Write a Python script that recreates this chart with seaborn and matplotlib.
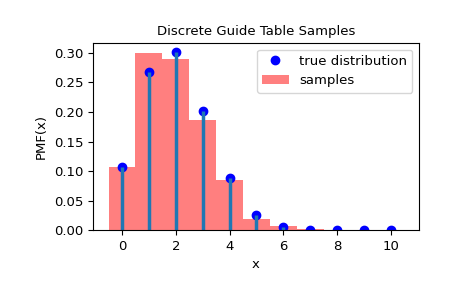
import matplotlib
matplotlib.use("Agg")
import matplotlib.pyplot as plt
import seaborn as sns

# true pmf values
x_vals = [0, 1, 2, 3, 4, 5, 6, 7, 8, 9, 10]
pmf_vals = [0.107, 0.268, 0.302, 0.201, 0.088, 0.026, 0.0055, 0.0008, 0.0001, 0.0, 0.0]

# sample histogram heights (density per unit bin)
sample_heights = [0.107, 0.300, 0.290, 0.186, 0.085, 0.0186, 0.0068, 0.0013, 0.0, 0.0, 0.0]

fig = plt.figure(figsize=(4.65, 2.88), dpi=100)
ax = fig.add_axes([0.2, 0.201, 0.701, 0.65])

sns.histplot(
    x=x_vals,
    weights=sample_heights,
    discrete=True,
    stat="count",
    color="red",
    alpha=0.5,
    linewidth=0,
    label="samples",
    ax=ax,
)
ax.plot(x_vals, pmf_vals, "bo", ms=6, label="true distribution")
ax.vlines(x_vals, 0, pmf_vals, colors="C0", lw=2.5)

ax.set_xlim(-1.08, 11.05)
ax.set_ylim(0, 0.317)
ax.set_xticks([0, 2, 4, 6, 8, 10])
ax.set_title("Discrete Guide Table Samples", fontsize=9.5)
ax.set_xlabel("x", fontsize=9.5)
ax.set_ylabel("PMF(x)", fontsize=9.5)
ax.tick_params(axis="both", labelsize=9.5)

handles, labels = ax.get_legend_handles_labels()
order = [labels.index("true distribution"), labels.index("samples")]
ax.legend([handles[i] for i in order], [labels[i] for i in order],
          loc="upper right", fontsize=9.5)

fig.savefig("out.png", dpi=100)
